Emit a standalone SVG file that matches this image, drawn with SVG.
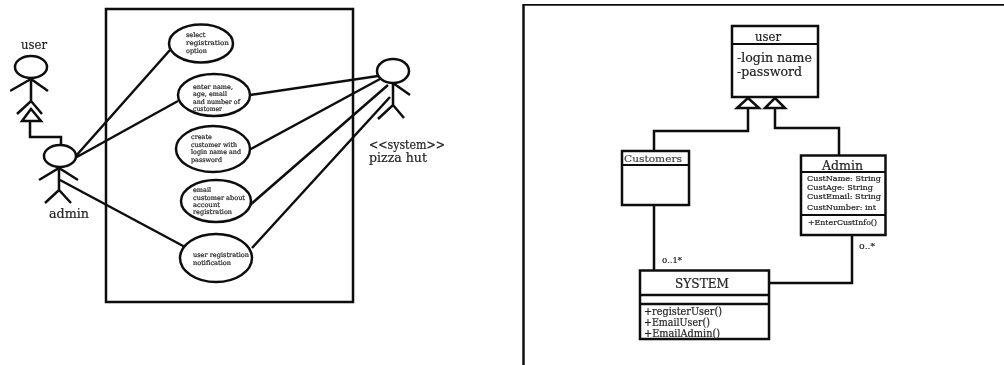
<svg xmlns="http://www.w3.org/2000/svg" width="1004" height="365" viewBox="0 0 1004 365">
<style>
text{font-family:"DejaVu Serif","Liberation Serif",serif;fill:#222;stroke:#222;stroke-width:.2}
.l,.u{fill:none;stroke:#111;stroke-width:2.500}
.b{fill:#fff;stroke:#111;stroke-width:2.500}
.n{fill:none;stroke:#111;stroke-width:2}
.s{font-size:6.500px}
.m{font-size:13px}
.a{font-size:8px}
.o{font-size:11px}
</style>
<defs><filter id="soft" x="0" y="0" width="100%" height="100%"><feGaussianBlur stdDeviation="0.4"/></filter></defs>
<rect width="1004" height="365" fill="#fff"/>
<g filter="url(#soft)">
<g id="boundary"><rect class="l" x="106" y="9" width="247" height="293"/></g>
<g id="connectors">
<path class="l" d="M75 157 170 50M75 158 178 101M60 180 185 247"/>
<path class="l" d="M250 95 378 76M249 150 380 79M250 205 388 85M252 248 390 97"/>
<path class="l" d="M30 121V137H61V145"/>
<path class="u" d="M748 108V131H654V151M775 108V128H839V155M654 205V270M769 283H852V235"/>
</g>
<g id="actor-user">
<text x="21" y="49" class="m" textLength="26" lengthAdjust="spacingAndGlyphs">user</text>
<ellipse class="b" cx="31" cy="67" rx="16" ry="11"/>
<path class="l" d="M31 78V101M10 91 31 79 48 91M17 114 31 101 42 114"/>
<path class="b" d="M31 109 22 121H41Z"/>
</g>
<g id="actor-admin">
<ellipse class="b" cx="60" cy="156" rx="16" ry="11"/>
<path class="l" d="M59 167V190M39 180 59 168 78 180M45 203 59 190 71 203"/>
<text x="49" y="218" class="m" textLength="40" lengthAdjust="spacingAndGlyphs">admin</text>
</g>
<g id="actor-system">
<ellipse class="b" cx="393" cy="71" rx="16" ry="12"/>
<path class="l" d="M393 83V105M393 83 410 95M378 119 393 105 404 118"/>
<text x="369" y="149" class="m" textLength="76" lengthAdjust="spacingAndGlyphs">&lt;&lt;system&gt;&gt;</text>
<text x="369" y="162" class="m" textLength="58" lengthAdjust="spacingAndGlyphs">pizza hut</text>
</g>
<g id="uc-select">
<ellipse class="b" cx="201" cy="43.500" rx="32" ry="19"/>
<text class="s" x="186" y="37">select</text><text class="s" x="186" y="45" textLength="43" lengthAdjust="spacingAndGlyphs">registration</text><text class="s" x="186" y="53">option</text>
</g>
<g id="uc-enter">
<ellipse class="b" cx="214" cy="95" rx="36" ry="21"/>
<text class="s" x="193" y="89" textLength="40" lengthAdjust="spacingAndGlyphs">enter name,</text><text class="s" x="193" y="96" textLength="34" lengthAdjust="spacingAndGlyphs">age, email</text><text class="s" x="193" y="104" textLength="47" lengthAdjust="spacingAndGlyphs">and number of</text><text class="s" x="193" y="111" textLength="29" lengthAdjust="spacingAndGlyphs">customer</text>
</g>
<g id="uc-create">
<ellipse class="b" cx="213" cy="149" rx="37" ry="23"/>
<text class="s" x="191" y="139">create</text><text class="s" x="191" y="147" textLength="46" lengthAdjust="spacingAndGlyphs">customer with</text><text class="s" x="191" y="154" textLength="50" lengthAdjust="spacingAndGlyphs">login name and</text><text class="s" x="191" y="162" textLength="31" lengthAdjust="spacingAndGlyphs">password</text>
</g>
<g id="uc-email">
<ellipse class="b" cx="216" cy="201" rx="35" ry="21"/>
<text class="s" x="193" y="192">email</text><text class="s" x="193" y="200" textLength="52" lengthAdjust="spacingAndGlyphs">customer about</text><text class="s" x="193" y="207" textLength="27" lengthAdjust="spacingAndGlyphs">account</text><text class="s" x="193" y="214" textLength="39" lengthAdjust="spacingAndGlyphs">registration</text>
</g>
<g id="uc-notify">
<ellipse class="b" cx="216" cy="258" rx="36" ry="24"/>
<text class="s" x="193" y="257" textLength="56" lengthAdjust="spacingAndGlyphs">user registration</text><text class="s" x="193" y="265" textLength="38" lengthAdjust="spacingAndGlyphs">notification</text>
</g>
<g id="frame-right"><path class="l" d="M523.500 365V4.500H1004"/></g>
<g id="class-user">
<rect class="b" x="732" y="26" width="86" height="71"/>
<path class="n" d="M732 44H818"/>
<text class="m" x="755" y="41" textLength="26" lengthAdjust="spacingAndGlyphs">user</text>
<text class="m" x="737" y="62" textLength="75" lengthAdjust="spacingAndGlyphs">-login name</text>
<text class="m" x="737" y="76" textLength="65" lengthAdjust="spacingAndGlyphs">-password</text>
</g>
<g id="generalization-heads">
<path class="b" d="M748 98 737 108H759Z"/>
<path class="b" d="M775 98 765 108H785Z"/>
</g>
<g id="class-customers">
<rect class="b" x="622" y="151" width="67" height="54"/>
<path class="n" d="M622 165H689"/>
<text x="624" y="162" font-size="10" textLength="58" lengthAdjust="spacingAndGlyphs" style="fill:#444;stroke:#444">Customers</text>
</g>
<g id="class-admin">
<rect class="b" x="801" y="155.500" width="84.500" height="79.500"/>
<path class="n" d="M801 172H886M801 215H885"/>
<text x="822" y="170" font-size="13" textLength="41" lengthAdjust="spacingAndGlyphs">Admin</text>
<text class="a" x="807" y="181" textLength="74" lengthAdjust="spacingAndGlyphs">CustName: String</text>
<text class="a" x="807" y="190" textLength="66" lengthAdjust="spacingAndGlyphs">CustAge: String</text>
<text class="a" x="807" y="199" textLength="74" lengthAdjust="spacingAndGlyphs">CustEmail: String</text>
<text class="a" x="807" y="210" textLength="69" lengthAdjust="spacingAndGlyphs">CustNumber: int</text>
<text class="a" x="808" y="225" textLength="69" lengthAdjust="spacingAndGlyphs">+EnterCustInfo()</text>
</g>
<g id="class-system">
<rect class="b" x="640" y="270.500" width="129" height="68.500"/>
<path class="l" d="M640 295H769M640 304H769"/>
<text x="675" y="288" font-size="13.500" textLength="54" lengthAdjust="spacingAndGlyphs">SYSTEM</text>
<text class="o" x="644" y="315" textLength="78" lengthAdjust="spacingAndGlyphs">+registerUser()</text>
<text class="o" x="644" y="326" textLength="66" lengthAdjust="spacingAndGlyphs">+EmailUser()</text>
<text class="o" x="644" y="337" textLength="76" lengthAdjust="spacingAndGlyphs">+EmailAdmin()</text>
</g>
<g id="multiplicities">
<text class="a" x="662" y="263" textLength="20" lengthAdjust="spacingAndGlyphs">0..1*</text>
<text class="a" x="859" y="249" textLength="16" lengthAdjust="spacingAndGlyphs">0..*</text>
</g>
</g>
</svg>
